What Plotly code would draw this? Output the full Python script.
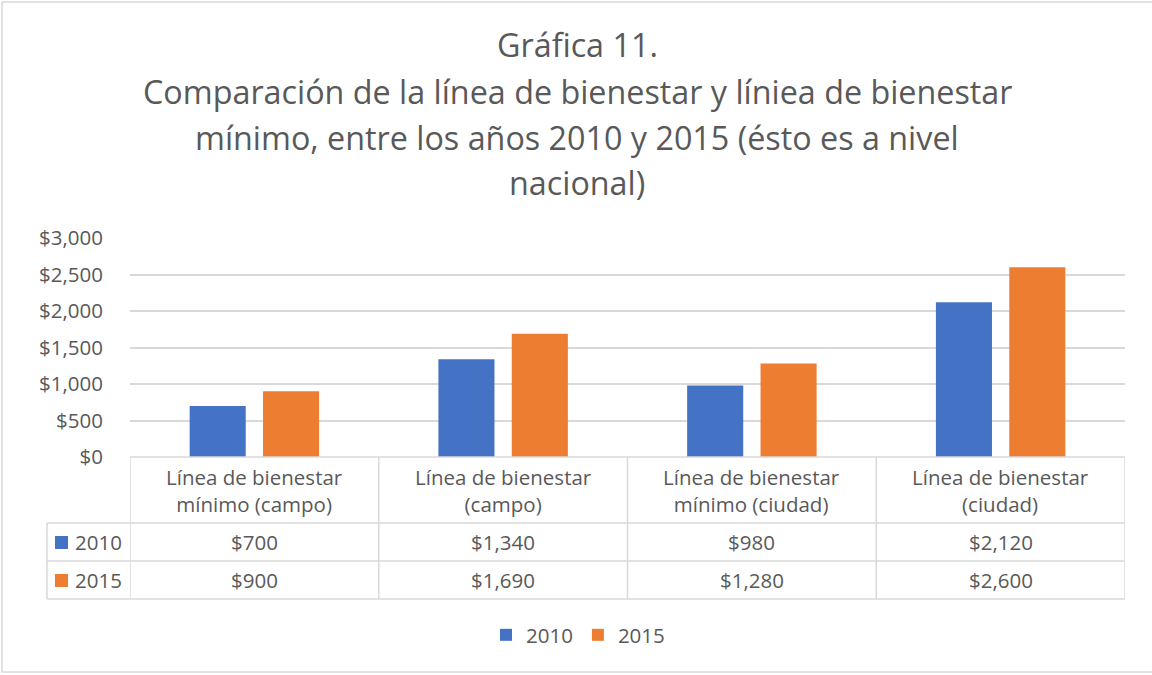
import plotly.graph_objects as go

categories = ["Línea de bienestar<br>mínimo (campo)", "Línea de bienestar<br>(campo)",
              "Línea de bienestar<br>mínimo (ciudad)", "Línea de bienestar<br>(ciudad)"]
series_names = ["2010", "2015"]
values_2010 = [700, 1340, 980, 2120]
values_2015 = [900, 1690, 1280, 2600]
colors = ["#4472C4", "#ED7D31"]
y_ticks = [0, 500, 1000, 1500, 2000, 2500, 3000]
title_lines = ["Gráfica 11.",
               "Comparación de la línea de bienestar y líniea de bienestar",
               "mínimo, entre los años 2010 y 2015 (ésto es a nivel",
               "nacional)"]

FONT = "Open Sans"
TXT = "#595959"
GRID = "#d9d9d9"
FS = 20.5

W, H = 1152, 675
L, R, T, B = 130, 27, 238, 218
ph = H - T - B
pw = W - L - R

def py(p):  # pixel y -> paper y
    return (H - B - p) / ph

def px(p):  # pixel x -> paper x
    return (p - L) / pw

fig = go.Figure()
xs = list(range(len(categories)))
for name, vals, c in zip(series_names, [values_2010, values_2015], colors):
    fig.add_trace(go.Bar(x=xs, y=vals, name=name, marker=dict(color=c, line=dict(width=0))))

shapes = []
shapes.append(dict(type="line", xref="x", yref="paper", x0=-0.5, x1=len(categories) - 0.5, y0=0, y1=0,
                   line=dict(color=GRID, width=1.5)))
for yp in [523, 561, 599]:
    shapes.append(dict(type="line", xref="paper", yref="paper", x0=px(47), x1=1, y0=py(yp), y1=py(yp),
                       line=dict(color=GRID, width=1.5)))
for xb in [i - 0.5 for i in range(len(categories) + 1)]:
    shapes.append(dict(type="line", xref="x", yref="paper", x0=xb, x1=xb, y0=0, y1=py(599),
                       line=dict(color=GRID, width=1.5)))
shapes.append(dict(type="line", xref="paper", yref="paper", x0=px(47), x1=px(47), y0=py(523), y1=py(599),
                   line=dict(color=GRID, width=1.5)))
shapes.append(dict(type="rect", xref="paper", yref="paper", x0=px(2), x1=px(1160), y0=py(672), y1=py(2),
                   line=dict(color=GRID, width=1.5), fillcolor="rgba(0,0,0,0)", layer="below"))
for i, c in enumerate(colors):
    yc = [542, 580][i]
    shapes.append(dict(type="rect", xref="paper", yref="paper", x0=px(55), x1=px(68),
                       y0=py(yc + 7), y1=py(yc - 6), fillcolor=c, line=dict(width=0)))

annotations = []
for k, line in enumerate(title_lines):
    annotations.append(dict(x=px(577), y=py([44, 91, 137, 182][k]), xref="paper", yref="paper",
                            text=line, showarrow=False, xanchor="center", yanchor="middle",
                            font=dict(family=FONT, size=32.3, color=TXT)))
for i, cat in enumerate(categories):
    annotations.append(dict(x=i, y=py(490), xref="x", yref="paper", text=cat, showarrow=False,
                            xanchor="center", yanchor="middle",
                            font=dict(family=FONT, size=FS, color=TXT), align="center"))
    for j, vals in enumerate([values_2010, values_2015]):
        annotations.append(dict(x=i, y=py([542, 580][j]), xref="x", yref="paper",
                                text="${:,}".format(vals[i]), showarrow=False,
                                xanchor="center", yanchor="middle",
                                font=dict(family=FONT, size=FS, color=TXT)))
for j, name in enumerate(series_names):
    annotations.append(dict(x=px(73), y=py([542, 580][j]), xref="paper", yref="paper", text=name,
                            showarrow=False, xanchor="left", yanchor="middle",
                            font=dict(family=FONT, size=FS, color=TXT)))

fig.update_layout(
    width=W, height=H,
    margin=dict(l=L, r=R, t=T, b=B),
    paper_bgcolor="white", plot_bgcolor="white",
    barmode="group", bargap=0.41, bargroupgap=0.236,
    xaxis=dict(range=[-0.5, len(categories) - 0.5], showticklabels=False, showgrid=False,
               zeroline=False, showline=False, fixedrange=True),
    yaxis=dict(range=[0, 3000], tickvals=y_ticks, ticktext=["${:,}".format(v) for v in y_ticks],
               showgrid=True, gridcolor=GRID, gridwidth=1.5, zeroline=False, showline=False,
               tickfont=dict(family=FONT, size=FS, color=TXT), ticks="", ticklen=0,
               ticklabelstandoff=26),
    legend=dict(orientation="h", x=px(578), xanchor="center", y=py(635), yanchor="middle",
                font=dict(family=FONT, size=FS, color=TXT), itemwidth=30, traceorder="normal"),
    shapes=shapes, annotations=annotations,
)

fig.write_html("out.html", config={"displayModeBar": False},
               post_script="document.body.style.margin='0';document.body.style.overflow='hidden';")
